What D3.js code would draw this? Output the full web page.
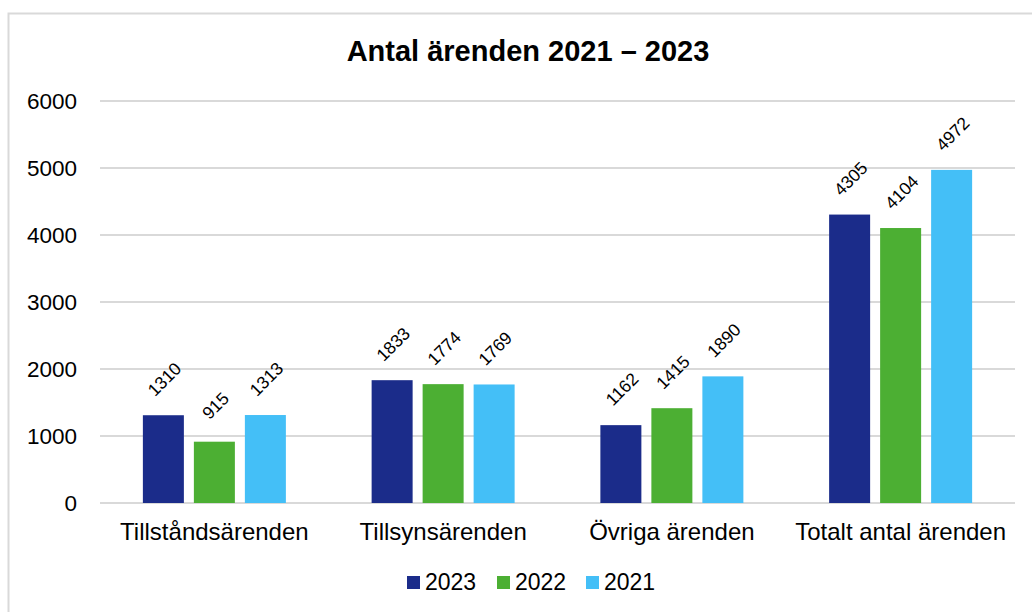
<!DOCTYPE html>
<html>
<head>
<meta charset="utf-8">
<script src="https://cdn.jsdelivr.net/npm/d3@7"></script>
<style>
  body { margin: 0; background: #fff; }
  text { font-family: "Liberation Sans", Arial, sans-serif; fill: #000; }
</style>
</head>
<body>
<div id="body"></div>
<script>
// chart data
var categories = ['Tillståndsärenden', 'Tillsynsärenden', 'Övriga ärenden', 'Totalt antal ärenden'];
var years = ['2023', '2022', '2021'];
var values2023 = [1310, 1833, 1162, 4305];
var values2022 = [915, 1774, 1415, 4104];
var values2021 = [1313, 1769, 1890, 4972];
var yTicks = [0, 1000, 2000, 3000, 4000, 5000, 6000];
var colors = ['#1b2c8a', '#4caf33', '#44bff7'];

var seriesValues = [values2023, values2022, values2021];

// Make the canvas
var width = 1032, height = 612;
var svg = d3.select('#body')
    .append('svg')
    .attr('width', width)
    .attr('height', height);

// chart border
svg.append('rect')
    .attr('x', 8.5).attr('y', 13.5)
    .attr('width', 1040).attr('height', 620)
    .attr('fill', 'none')
    .attr('stroke', '#d9d9d9')
    .attr('stroke-width', 2);

// title
svg.append('text')
    .attr('x', 528).attr('y', 61)
    .attr('text-anchor', 'middle')
    .style('font-size', '29px')
    .style('font-weight', 'bold')
    .text('Antal ärenden 2021 – 2023');

var plot = { left: 100, right: 1015, top: 101, bottom: 503 };

var x = d3.scaleBand()
    .domain(categories)
    .range([plot.left, plot.right]);

var xInner = d3.scaleBand()
    .domain(years)
    .range([0, 143])
    .paddingInner(10 / 51);

var y = d3.scaleLinear()
    .domain([0, 6000])
    .range([plot.bottom, plot.top]);

// gridlines
svg.append('g')
    .selectAll('line')
    .data(yTicks)
    .join('line')
    .attr('x1', plot.left).attr('x2', plot.right)
    .attr('y1', function (d) { return y(d); })
    .attr('y2', function (d) { return y(d); })
    .attr('stroke', '#d9d9d9')
    .attr('stroke-width', 2);

// y axis labels
var yAxis = d3.axisLeft(y).tickValues(yTicks).tickFormat(d3.format('d')).tickSize(0).tickPadding(0);
var yg = svg.append('g')
    .attr('transform', 'translate(77,0)')
    .call(yAxis);
yg.select('.domain').remove();
yg.attr('font-family', null).attr('font-size', null);
yg.selectAll('text')
    .style('font-size', '22.5px');

// x axis labels
var xAxis = d3.axisBottom(x).tickSize(0).tickPadding(0);
var xg = svg.append('g')
    .attr('transform', 'translate(0,' + plot.bottom + ')')
    .call(xAxis);
xg.select('.domain').remove();
xg.attr('font-family', null).attr('font-size', null);
xg.selectAll('text')
    .attr('y', 37)
    .attr('dy', null)
    .style('font-size', '24px');

// bars
var groups = svg.append('g')
    .selectAll('g')
    .data(categories)
    .join('g')
    .attr('transform', function (c) {
      return 'translate(' + (x(c) + x.bandwidth() / 2 - 71.5) + ',0)';
    });

groups.each(function (c, ci) {
  var g = d3.select(this);
  years.forEach(function (yr, si) {
    var v = seriesValues[si][ci];
    var bx = xInner(yr);
    g.append('rect')
        .attr('x', bx)
        .attr('y', y(v))
        .attr('width', xInner.bandwidth())
        .attr('height', y(0) - y(v))
        .attr('fill', colors[si]);
    var cx = bx + xInner.bandwidth() / 2 + 1;
    var cy = y(v) - 36;
    g.append('text')
        .attr('transform', 'translate(' + cx + ',' + cy + ') rotate(-45)')
        .attr('text-anchor', 'middle')
        .attr('dy', '0.35em')
        .style('font-size', '17.5px')
        .text(v);
  });
});

// legend
var legendX = [407, 497, 586];
var legend = svg.append('g')
    .selectAll('g')
    .data(years)
    .join('g')
    .attr('transform', function (d, i) { return 'translate(' + legendX[i] + ',576)'; });
legend.append('rect')
    .attr('width', 13).attr('height', 13)
    .attr('fill', function (d, i) { return colors[i]; });
legend.append('text')
    .attr('x', 18).attr('y', 14)
    .style('font-size', '23px')
    .text(function (d) { return d; });
</script>
</body>
</html>
